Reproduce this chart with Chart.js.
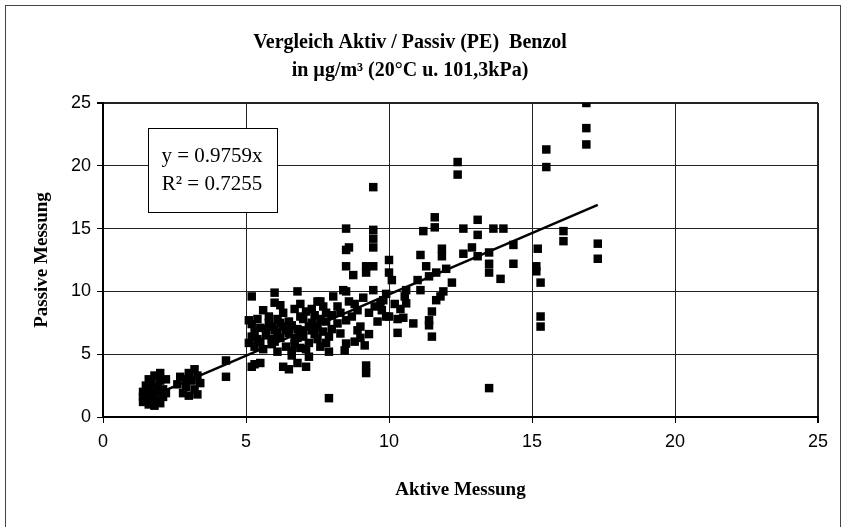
<!DOCTYPE html>
<html>
<head>
<meta charset="utf-8">
<script src="https://cdn.jsdelivr.net/npm/chart.js@4.4.1/dist/chart.umd.min.js"></script>
<style>
  html, body { margin: 0; padding: 0; background: #fff; }
</style>
</head>
<body>
<canvas id="benzolChart" width="845" height="527"></canvas>
<script>
// Aktive Messung (x) and Passive Messung (y)
const aktivMessung = [
  1.4, 1.4, 1.5, 1.5, 1.6, 1.6, 1.7, 1.7, 1.8, 1.8, 1.8, 1.9, 1.9, 2.0, 2.0, 2.1, 2.1, 2.2, 1.5, 1.6, 2.0, 1.8, 1.4, 2.2,
  2.6, 2.7, 2.8, 2.9, 3.0, 3.0, 3.1, 3.2, 3.2, 3.3, 3.3, 3.4, 2.9, 4.3, 4.3,
  5.2, 5.3, 5.3, 5.4, 5.5, 5.6, 5.7, 5.8, 5.9, 6.0, 6.1, 6.1, 6.2, 6.3, 6.3, 6.4, 6.5, 6.5, 6.6, 6.7, 6.7, 6.8, 6.9, 7.0,
  7.0, 7.1, 7.2, 7.3, 7.3, 7.4, 7.5, 7.5, 7.6, 7.7, 7.7, 7.8, 7.9, 8.0, 6.2, 5.6, 6.9, 7.6, 5.9, 6.6, 7.2, 6.8, 6.5, 5.3, 7.9,
  5.2, 6.0, 6.0, 6.8, 7.5, 5.1, 5.1, 5.2, 5.5, 6.3, 7.1, 7.8, 7.9,
  5.4, 5.7, 6.0, 6.2, 6.4, 6.6, 6.8, 7.0, 7.2, 7.4, 7.6, 7.8, 6.1, 6.9, 7.3, 5.5, 5.8, 6.7, 7.1, 8.0, 5.2, 5.9,
  8.5, 8.5, 8.5, 8.5, 9.45, 9.45, 9.45, 9.45, 8.6, 8.75, 9.2, 9.2, 9.45, 10.0, 10.0, 10.1,
  8.4, 9.45, 9.9, 10.6, 11.0, 11.1, 11.4, 11.65, 11.8, 11.5, 11.4, 11.4, 11.5, 10.85, 10.3, 10.0, 10.3, 10.6, 10.55, 9.7,
  9.75, 9.9, 10.5, 8.2, 8.2, 8.3, 8.5, 8.45, 8.9, 9.0, 9.15, 8.3, 8.5, 8.05, 9.2, 9.2, 8.7, 9.0, 8.8, 9.3, 9.5, 9.6, 8.6,
  8.8, 9.3, 9.8, 10.2, 10.4, 8.9, 9.1,
  11.1, 11.3, 11.65, 11.85, 11.85, 11.6, 11.6, 11.2, 12.4, 12.4, 12.6, 13.1, 13.1, 13.65, 14.0, 14.35, 14.35, 13.5, 13.5, 13.9,
  12.6, 12.9, 13.1, 13.5, 15.2, 15.15, 15.15, 15.3, 15.3, 15.3, 16.1, 16.1, 17.3, 17.3, 15.5, 15.5, 16.9, 16.9, 16.9, 13.5,
  12.0, 12.2, 11.9
];
const passivMessung = [
  1.2, 1.6, 1.9, 1.4, 1.0, 2.2, 1.5, 2.7, 0.9, 1.8, 3.3, 1.3, 2.4, 1.1, 2.9, 1.6, 2.2, 3.0, 2.5, 3.0, 3.5, 2.0, 2.0, 1.9,
  2.6, 3.2, 1.9, 2.4, 3.5, 1.7, 2.9, 3.8, 2.2, 1.8, 3.3, 2.7, 3.0, 4.5, 3.2,
  7.4, 6.8, 5.6, 6.2, 7.1, 5.4, 6.5, 7.5, 5.8, 6.9, 7.8, 5.2, 6.3, 7.2, 8.3, 5.6, 6.7, 7.6, 4.9, 6.1, 8.6, 7.0, 5.5, 6.4,
  7.8, 8.4, 5.9, 6.9, 7.5, 8.1, 6.2, 7.2, 5.6, 6.8, 8.8, 7.6, 6.4, 8.1, 8.9, 8.5, 9.0, 9.2, 6.2, 5.3, 4.8, 4.3, 3.8, 4.2, 5.2,
  9.6, 9.9, 9.1, 10.0, 9.2, 7.7, 5.9, 4.0, 4.3, 4.0, 4.0, 5.9, 1.5,
  7.8, 7.0, 6.0, 7.5, 6.9, 7.3, 6.3, 6.9, 7.2, 6.6, 7.8, 8.3, 6.7, 8.0, 8.6, 6.0, 8.0, 5.8, 5.4, 7.0, 6.4, 7.2,
  10.0, 15.0, 13.3, 12.0, 18.3, 14.9, 14.2, 13.5, 13.5, 11.3, 12.0, 11.5, 12.0, 12.5, 11.5, 10.9,
  10.1, 10.1, 9.8, 10.1, 10.9, 10.1, 11.2, 9.3, 9.6, 8.4, 7.7, 7.3, 6.4, 7.45, 6.7, 8.0, 7.8, 9.05, 9.6, 9.05,
  8.5, 8.0, 7.9, 8.8, 7.45, 6.65, 5.85, 5.3, 6.9, 6.3, 5.7, 8.3, 7.7, 9.6, 4.1, 3.5, 8.0, 7.2, 6.0, 6.6, 8.8, 7.6, 9.2,
  9.0, 8.3, 9.3, 9.0, 8.6, 8.5, 9.5,
  12.9, 12.0, 11.5, 13.4, 12.8, 15.9, 15.1, 14.8, 20.3, 19.3, 15.0, 15.7, 14.5, 15.0, 15.0, 13.7, 12.2, 12.2, 11.5, 11.0,
  13.0, 13.5, 12.8, 13.1, 13.4, 12.0, 11.6, 10.7, 8.0, 7.2, 14.8, 14.0, 13.8, 12.6, 21.3, 19.9, 23.0, 21.7, 25.0, 2.3,
  11.8, 10.7, 10.0
];
const trendSlope = 0.9759;
const trendR2 = 0.7255;
const tickValues = [0, 5, 10, 15, 20, 25];

const titleLines = ['Vergleich Aktiv / Passiv (PE)  Benzol', 'in \u00b5g/m\u00b3 (20\u00b0C u. 101,3kPa)'];

const points = aktivMessung.map((x, i) => ({ x: x, y: passivMessung[i] }));
const xMin = Math.min(...aktivMessung);
const xMax = Math.max(...aktivMessung);
const trendPoints = [
  { x: xMin, y: trendSlope * xMin },
  { x: xMax, y: trendSlope * xMax }
];

const serif = '"Liberation Serif", "Times New Roman", serif';
const sans = '"Liberation Sans", Arial, sans-serif';

// titles, equation box and outer frame drawn by hand
const decorations = {
  id: 'decorations',
  beforeDraw(chart) {
    const c = chart.ctx;
    c.save();
    c.fillStyle = '#fff';
    c.fillRect(0, 0, chart.width, chart.height);
    c.restore();
  },
  afterDraw(chart) {
    const c = chart.ctx;
    const area = chart.chartArea;
    c.save();
    // outer frame
    c.strokeStyle = '#444';
    c.lineWidth = 1;
    c.strokeRect(5.5, 5.5, 835, 540);

    // chart title
    c.fillStyle = '#000';
    c.textAlign = 'center';
    c.textBaseline = 'middle';
    c.font = 'bold 20px ' + serif;
    c.fillText(titleLines[0], 410, 43);
    c.fillText(titleLines[1], 410, 71);

    // axis titles
    c.font = 'bold 19px ' + serif;
    c.fillText('Aktive Messung', (area.left + area.right) / 2, 490);
    c.save();
    c.translate(42, (area.top + area.bottom) / 2);
    c.rotate(-Math.PI / 2);
    c.fillText('Passive Messung', 0, 0);
    c.restore();

    // trendline equation
    c.fillStyle = '#fff';
    c.fillRect(148, 128, 129, 84);
    c.strokeStyle = '#000';
    c.strokeRect(148.5, 128.5, 129, 84);
    c.fillStyle = '#000';
    c.font = '21px ' + serif;
    c.fillText('y = ' + trendSlope + 'x', 212, 156);
    c.fillText('R\u00b2 = ' + trendR2, 212, 184);
    c.restore();
  }
};

const gridWidth = (ctx) => (ctx.tick && ctx.tick.value === 25 ? 2 : 1);

new Chart(document.getElementById('benzolChart').getContext('2d'), {
  type: 'scatter',
  data: {
    datasets: [{
      label: 'Messwerte',
      data: points,
      pointStyle: 'rect',
      pointRadius: 6,
      pointHoverRadius: 6,
      backgroundColor: '#000',
      borderColor: '#000',
      borderWidth: 0
    }, {
      label: 'Trend',
      type: 'line',
      data: trendPoints,
      borderColor: '#000',
      borderWidth: 2.5,
      pointRadius: 0,
      fill: false
    }]
  },
  options: {
    responsive: false,
    animation: false,
    devicePixelRatio: 1,
    layout: { padding: { top: 103, right: 27, left: 0, bottom: 0 } },
    plugins: {
      legend: { display: false },
      title: { display: false },
      tooltip: { enabled: false }
    },
    scales: {
      x: {
        type: 'linear',
        min: 0,
        max: 25,
        afterBuildTicks: (scale) => { scale.ticks = tickValues.map(v => ({ value: v })); },
        afterFit: (scale) => { scale.height = 110; },
        ticks: { color: '#000', font: { family: sans, size: 18 }, padding: 8 },
        grid: { color: '#222', lineWidth: gridWidth, tickLength: 6, tickColor: '#000' },
        border: { color: '#000', width: 2 }
      },
      y: {
        type: 'linear',
        min: 0,
        max: 25,
        afterBuildTicks: (scale) => { scale.ticks = tickValues.map(v => ({ value: v })); },
        afterFit: (scale) => { scale.width = 103; },
        ticks: { color: '#000', font: { family: sans, size: 18 }, padding: 6 },
        grid: { color: '#222', lineWidth: gridWidth, tickLength: 6, tickColor: '#000' },
        border: { color: '#000', width: 2 }
      }
    }
  },
  plugins: [decorations]
});
</script>
</body>
</html>
